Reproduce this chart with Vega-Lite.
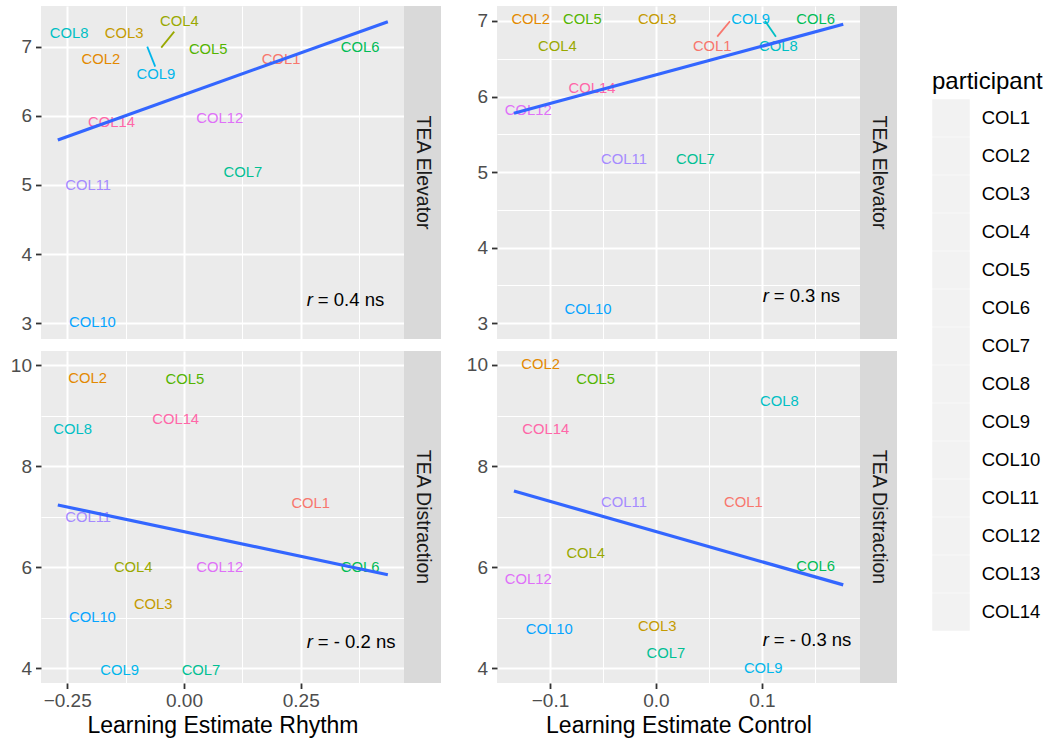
{
  "$schema": "https://vega.github.io/schema/vega-lite/v6.json",
  "padding": {"left": 5, "top": 6, "right": 0, "bottom": 0},
  "background": "white",
  "config": {
    "font": "Liberation Sans",
    "view": {"fill": "#EBEBEB", "stroke": null},
    "axis": {
      "gridColor": "#FFFFFF",
      "domain": false,
      "tickColor": "#333333",
      "tickSize": 5.5,
      "tickWidth": 1.8,
      "labelColor": "#4D4D4D",
      "labelFontSize": 19,
      "labelFont": "Liberation Sans",
      "labelFlush": false,
      "labelOverlap": false,
      "labelBound": false,
      "titleFont": "Liberation Sans",
      "titleFontWeight": "normal",
      "titleColor": "#000000",
      "titleFontSize": 23
    },
    "legend": {
      "labelFont": "Liberation Sans",
      "titleFont": "Liberation Sans"
    }
  },
  "datasets": {
    "labels": [
      {"panel": "TL", "participant": "COL1", "x": 0.208, "y": 6.80},
      {"panel": "TL", "participant": "COL2", "x": -0.178, "y": 6.80},
      {"panel": "TL", "participant": "COL3", "x": -0.128, "y": 7.19},
      {"panel": "TL", "participant": "COL4", "x": -0.010, "y": 7.35},
      {"panel": "TL", "participant": "COL5", "x": 0.052, "y": 6.957},
      {"panel": "TL", "participant": "COL6", "x": 0.377, "y": 6.986},
      {"panel": "TL", "participant": "COL7", "x": 0.126, "y": 5.18},
      {"panel": "TL", "participant": "COL8", "x": -0.246, "y": 7.19},
      {"panel": "TL", "participant": "COL9", "x": -0.060, "y": 6.587},
      {"panel": "TL", "participant": "COL10", "x": -0.196, "y": 3.0},
      {"panel": "TL", "participant": "COL11", "x": -0.205, "y": 4.99},
      {"panel": "TL", "participant": "COL12", "x": 0.0765, "y": 5.95},
      {"panel": "TL", "participant": "COL14", "x": -0.155, "y": 5.90},

      {"panel": "TR", "participant": "COL1", "x": 0.0531, "y": 6.66},
      {"panel": "TR", "participant": "COL2", "x": -0.1182, "y": 7.013},
      {"panel": "TR", "participant": "COL3", "x": 0.0012, "y": 7.013},
      {"panel": "TR", "participant": "COL4", "x": -0.0931, "y": 6.66},
      {"panel": "TR", "participant": "COL5", "x": -0.0695, "y": 7.013},
      {"panel": "TR", "participant": "COL6", "x": 0.1506, "y": 7.013},
      {"panel": "TR", "participant": "COL7", "x": 0.0371, "y": 5.16},
      {"panel": "TR", "participant": "COL8", "x": 0.1154, "y": 6.66},
      {"panel": "TR", "participant": "COL9", "x": 0.0893, "y": 7.013},
      {"panel": "TR", "participant": "COL10", "x": -0.0642, "y": 3.168},
      {"panel": "TR", "participant": "COL11", "x": -0.0302, "y": 5.16},
      {"panel": "TR", "participant": "COL12", "x": -0.1205, "y": 5.81},
      {"panel": "TR", "participant": "COL14", "x": -0.0604, "y": 6.097},

      {"panel": "BL", "participant": "COL1", "x": 0.2714, "y": 7.26},
      {"panel": "BL", "participant": "COL2", "x": -0.2063, "y": 9.73},
      {"panel": "BL", "participant": "COL3", "x": -0.0658, "y": 5.26},
      {"panel": "BL", "participant": "COL4", "x": -0.1086, "y": 5.99},
      {"panel": "BL", "participant": "COL5", "x": 0.0021, "y": 9.71},
      {"panel": "BL", "participant": "COL6", "x": 0.377, "y": 5.99},
      {"panel": "BL", "participant": "COL7", "x": 0.0364, "y": 3.95},
      {"panel": "BL", "participant": "COL8", "x": -0.2384, "y": 8.72},
      {"panel": "BL", "participant": "COL9", "x": -0.1378, "y": 3.95},
      {"panel": "BL", "participant": "COL10", "x": -0.196, "y": 5.0},
      {"panel": "BL", "participant": "COL11", "x": -0.205, "y": 6.98},
      {"panel": "BL", "participant": "COL12", "x": 0.0765, "y": 5.99},
      {"panel": "BL", "participant": "COL14", "x": -0.0178, "y": 8.917},

      {"panel": "BR", "participant": "COL1", "x": 0.0824, "y": 7.27},
      {"panel": "BR", "participant": "COL2", "x": -0.1088, "y": 10.0},
      {"panel": "BR", "participant": "COL3", "x": 0.0012, "y": 4.81},
      {"panel": "BR", "participant": "COL4", "x": -0.0663, "y": 6.27},
      {"panel": "BR", "participant": "COL5", "x": -0.0569, "y": 9.70},
      {"panel": "BR", "participant": "COL6", "x": 0.1506, "y": 6.01},
      {"panel": "BR", "participant": "COL7", "x": 0.0094, "y": 4.29},
      {"panel": "BR", "participant": "COL8", "x": 0.1164, "y": 9.26},
      {"panel": "BR", "participant": "COL9", "x": 0.1012, "y": 3.98},
      {"panel": "BR", "participant": "COL10", "x": -0.1007, "y": 4.75},
      {"panel": "BR", "participant": "COL11", "x": -0.0302, "y": 7.27},
      {"panel": "BR", "participant": "COL12", "x": -0.1205, "y": 5.75},
      {"panel": "BR", "participant": "COL14", "x": -0.104, "y": 8.72}
    ],
    "segs": [
      {"panel": "TL", "participant": "COL4", "x": -0.0208, "y": 7.217, "x2": -0.0486, "y2": 6.986},
      {"panel": "TL", "participant": "COL9", "x": -0.0615, "y": 6.711, "x2": -0.0786, "y2": 7.0},
      {"panel": "TR", "participant": "COL1", "x": 0.0578, "y": 6.792, "x2": 0.0698, "y2": 6.996},
      {"panel": "TR", "participant": "COL8", "x": 0.1132, "y": 6.792, "x2": 0.1028, "y2": 7.004}
    ],
    "fits": [
      {"panel": "TL", "x": -0.270, "y": 5.652},
      {"panel": "TL", "x": 0.4364, "y": 7.361},
      {"panel": "TR", "x": -0.134, "y": 5.779},
      {"panel": "TR", "x": 0.1767, "y": 6.956},
      {"panel": "BL", "x": -0.270, "y": 7.234},
      {"panel": "BL", "x": 0.4364, "y": 5.853},
      {"panel": "BR", "x": -0.134, "y": 7.506},
      {"panel": "BR", "x": 0.1767, "y": 5.65}
    ],
    "annot": [
      {"panel": "TL", "x": 0.263, "y": 3.34, "rest": "= 0.4 ns"},
      {"panel": "TR", "x": 0.1007, "y": 3.353, "rest": "= 0.3 ns"},
      {"panel": "BL", "x": 0.263, "y": 4.527, "rest": "= - 0.2 ns"},
      {"panel": "BR", "x": 0.1007, "y": 4.553, "rest": "= - 0.3 ns"}
    ],
    "strips": [
      {"measure": "TEA Elevator"},
      {"measure": "TEA Distraction"}
    ]
  },
  "resolve": {"scale": {"color": "shared", "fill": "shared"}, "legend": {"color": "shared"}},
  "spacing": 12,
  "vconcat": [
    {
      "spacing": 0,
      "resolve": {"scale": {"color": "shared", "fill": "shared"}, "legend": {"color": "shared"}},
      "hconcat": [
        {
          "width": 363, "height": 333,
          "layer": [
            {
              "data": {"name": "labels"},
              "transform": [{"filter": "datum.panel === 'TL'"}],
              "mark": {"type": "text", "fontSize": 14.8, "clip": true, "align": "center", "baseline": "middle"},
              "encoding": {
                "x": {"field": "x", "type": "quantitative", "scale": {"domain": [-0.306, 0.471], "nice": false, "zero": false},
                  "axis": {"values": [-0.25, -0.125, 0, 0.125, 0.25, 0.375], "labels": false, "ticks": false, "title": null,
                    "gridWidth": {"condition": {"test": "abs(datum.value*4 - round(datum.value*4)) < 1e-6", "value": 2}, "value": 1}}},
                "y": {"field": "y", "type": "quantitative", "scale": {"domain": [2.773, 7.588], "nice": false, "zero": false},
                  "axis": {"values": [3, 3.5, 4, 4.5, 5, 5.5, 6, 6.5, 7, 7.5],
                    "labelExpr": "datum.value % 1 === 0 ? format(datum.value, '.0f') : ''",
                    "tickOpacity": {"condition": {"test": "datum.value % 1 === 0", "value": 1}, "value": 0},
                    "gridWidth": {"condition": {"test": "datum.value % 1 === 0", "value": 2}, "value": 1},
                    "labelPadding": 4, "title": " ", "titleFontSize": 1, "minExtent": 32, "maxExtent": 32, "titlePadding": 3}},
                "text": {"field": "participant"},
                "fill": {"field": "participant", "type": "nominal",
                  "scale": {"domain": ["COL1","COL2","COL3","COL4","COL5","COL6","COL7","COL8","COL9","COL10","COL11","COL12","COL14"],
                    "range": ["#F8766D","#E38900","#C49A00","#99A800","#53B400","#00BC56","#00C094","#00BFC4","#00B6EB","#06A4FF","#A58AFF","#DF70F8","#FF66A8"]},
                  "legend": null}
              }
            },
            {
              "data": {"name": "segs"},
              "transform": [{"filter": "datum.panel === 'TL'"}],
              "mark": {"type": "rule", "strokeWidth": 1.8, "clip": true},
              "encoding": {
                "x": {"field": "x", "type": "quantitative"},
                "y": {"field": "y", "type": "quantitative"},
                "x2": {"field": "x2"},
                "y2": {"field": "y2"},
                "color": {"field": "participant", "type": "nominal",
                  "scale": {"domain": ["COL1","COL2","COL3","COL4","COL5","COL6","COL7","COL8","COL9","COL10","COL11","COL12","COL13","COL14"],
                    "range": ["#F8766D","#E38900","#C49A00","#99A800","#53B400","#00BC56","#00C094","#00BFC4","#00B6EB","#06A4FF","#A58AFF","#DF70F8","#FB61D7","#FF66A8"]},
                  "legend": {"title": "participant", "orient": "none", "legendX": 891, "legendY": 64, "direction": "vertical",
                    "padding": 0, "titlePadding": 5, "rowPadding": -6, "symbolOffset": 0, "labelOffset": 11.7,
                    "symbolType": "square", "symbolSize": 1406, "symbolStrokeWidth": 0, "symbolFillColor": "#F2F2F2",
                    "titleFontSize": 24, "titleFontWeight": "normal", "titleColor": "#000000",
                    "labelFontSize": 18.5, "labelColor": "#000000", "labelLimit": 200,
                    "encode": {"symbols": {"update": {"fill": {"value": "#F2F2F2"}, "fillOpacity": {"value": 1}, "strokeOpacity": {"value": 0}, "strokeWidth": {"value": 0}, "opacity": {"value": 1}}}}}}
              }
            },
            {
              "data": {"name": "fits"},
              "transform": [{"filter": "datum.panel === 'TL'"}],
              "mark": {"type": "line", "color": "#3366FF", "strokeWidth": 3.2},
              "encoding": {
                "x": {"field": "x", "type": "quantitative"},
                "y": {"field": "y", "type": "quantitative"}
              }
            },
            {
              "data": {"name": "annot"},
              "transform": [{"filter": "datum.panel === 'TL'"}],
              "mark": {"type": "text", "text": "r", "fontStyle": "italic", "fontSize": 18.5, "align": "left", "baseline": "middle", "color": "#000000"},
              "encoding": {
                "x": {"field": "x", "type": "quantitative"},
                "y": {"field": "y", "type": "quantitative"}
              }
            },
            {
              "data": {"name": "annot"},
              "transform": [{"filter": "datum.panel === 'TL'"}],
              "mark": {"type": "text", "fontSize": 18.5, "align": "left", "baseline": "middle", "color": "#000000", "dx": 11},
              "encoding": {
                "x": {"field": "x", "type": "quantitative"},
                "y": {"field": "y", "type": "quantitative"},
                "text": {"field": "rest"}
              }
            }
          ]
        },
        {
          "width": 37, "height": 333,
          "view": {"fill": "#D9D9D9", "stroke": null},
          "data": {"name": "strips"},
          "transform": [{"filter": "datum.measure === 'TEA Elevator'"}],
          "mark": {"type": "text", "angle": 90, "fontSize": 19.5, "color": "#1A1A1A", "align": "center", "baseline": "middle"},
          "encoding": {"text": {"field": "measure"}}
        },
        {
          "width": 363, "height": 333,
          "layer": [
            {
              "data": {"name": "labels"},
              "transform": [{"filter": "datum.panel === 'TR'"}],
              "mark": {"type": "text", "fontSize": 14.8, "clip": true, "align": "center", "baseline": "middle"},
              "encoding": {
                "x": {"field": "x", "type": "quantitative", "scale": {"domain": [-0.15, 0.1925], "nice": false, "zero": false},
                  "axis": {"values": [-0.1, -0.05, 0, 0.05, 0.1, 0.15], "labels": false, "ticks": false, "title": null,
                    "gridWidth": {"condition": {"test": "abs(datum.value*10 - round(datum.value*10)) < 1e-6", "value": 2}, "value": 1}}},
                "y": {"field": "y", "type": "quantitative", "scale": {"domain": [2.79, 7.198], "nice": false, "zero": false},
                  "axis": {"values": [3, 3.5, 4, 4.5, 5, 5.5, 6, 6.5, 7],
                    "labelExpr": "datum.value % 1 === 0 ? format(datum.value, '.0f') : ''",
                    "tickOpacity": {"condition": {"test": "datum.value % 1 === 0", "value": 1}, "value": 0},
                    "gridWidth": {"condition": {"test": "datum.value % 1 === 0", "value": 2}, "value": 1},
                    "labelPadding": 4, "title": " ", "titleFontSize": 1, "minExtent": 32, "maxExtent": 32, "titlePadding": 23}},
                "text": {"field": "participant"},
                "fill": {"field": "participant", "type": "nominal",
                  "scale": {"domain": ["COL1","COL2","COL3","COL4","COL5","COL6","COL7","COL8","COL9","COL10","COL11","COL12","COL14"],
                    "range": ["#F8766D","#E38900","#C49A00","#99A800","#53B400","#00BC56","#00C094","#00BFC4","#00B6EB","#06A4FF","#A58AFF","#DF70F8","#FF66A8"]},
                  "legend": null}
              }
            },
            {
              "data": {"name": "segs"},
              "transform": [{"filter": "datum.panel === 'TR'"}],
              "mark": {"type": "rule", "strokeWidth": 1.8, "clip": true},
              "encoding": {
                "x": {"field": "x", "type": "quantitative"},
                "y": {"field": "y", "type": "quantitative"},
                "x2": {"field": "x2"},
                "y2": {"field": "y2"},
                "color": {"field": "participant", "type": "nominal",
                  "scale": {"domain": ["COL1","COL2","COL3","COL4","COL5","COL6","COL7","COL8","COL9","COL10","COL11","COL12","COL13","COL14"],
                    "range": ["#F8766D","#E38900","#C49A00","#99A800","#53B400","#00BC56","#00C094","#00BFC4","#00B6EB","#06A4FF","#A58AFF","#DF70F8","#FB61D7","#FF66A8"]}}
              }
            },
            {
              "data": {"name": "fits"},
              "transform": [{"filter": "datum.panel === 'TR'"}],
              "mark": {"type": "line", "color": "#3366FF", "strokeWidth": 3.2},
              "encoding": {
                "x": {"field": "x", "type": "quantitative"},
                "y": {"field": "y", "type": "quantitative"}
              }
            },
            {
              "data": {"name": "annot"},
              "transform": [{"filter": "datum.panel === 'TR'"}],
              "mark": {"type": "text", "text": "r", "fontStyle": "italic", "fontSize": 18.5, "align": "left", "baseline": "middle", "color": "#000000"},
              "encoding": {
                "x": {"field": "x", "type": "quantitative"},
                "y": {"field": "y", "type": "quantitative"}
              }
            },
            {
              "data": {"name": "annot"},
              "transform": [{"filter": "datum.panel === 'TR'"}],
              "mark": {"type": "text", "fontSize": 18.5, "align": "left", "baseline": "middle", "color": "#000000", "dx": 11},
              "encoding": {
                "x": {"field": "x", "type": "quantitative"},
                "y": {"field": "y", "type": "quantitative"},
                "text": {"field": "rest"}
              }
            }
          ]
        },
        {
          "width": 37, "height": 333,
          "view": {"fill": "#D9D9D9", "stroke": null},
          "data": {"name": "strips"},
          "transform": [{"filter": "datum.measure === 'TEA Elevator'"}],
          "mark": {"type": "text", "angle": 90, "fontSize": 19.5, "color": "#1A1A1A", "align": "center", "baseline": "middle"},
          "encoding": {"text": {"field": "measure"}}
        }
      ]
    },
    {
      "spacing": 0,
      "resolve": {"scale": {"color": "shared", "fill": "shared"}, "legend": {"color": "shared"}},
      "hconcat": [
        {
          "width": 363, "height": 332,
          "layer": [
            {
              "data": {"name": "labels"},
              "transform": [{"filter": "datum.panel === 'BL'"}],
              "mark": {"type": "text", "fontSize": 14.8, "clip": true, "align": "center", "baseline": "middle"},
              "encoding": {
                "x": {"field": "x", "type": "quantitative", "scale": {"domain": [-0.306, 0.471], "nice": false, "zero": false},
                  "axis": {"values": [-0.25, -0.125, 0, 0.125, 0.25, 0.375],
                    "labelExpr": "abs(datum.value*4 - round(datum.value*4)) < 1e-6 ? format(datum.value, '.2f') : ''",
                    "tickOpacity": {"condition": {"test": "abs(datum.value*4 - round(datum.value*4)) < 1e-6", "value": 1}, "value": 0},
                    "gridWidth": {"condition": {"test": "abs(datum.value*4 - round(datum.value*4)) < 1e-6", "value": 2}, "value": 1},
                    "labelPadding": 3, "title": "Learning Estimate Rhythm", "titlePadding": 4}},
                "y": {"field": "y", "type": "quantitative", "scale": {"domain": [3.709, 10.283], "nice": false, "zero": false},
                  "axis": {"values": [4, 5, 6, 7, 8, 9, 10],
                    "labelExpr": "datum.value % 2 === 0 ? format(datum.value, '.0f') : ''",
                    "tickOpacity": {"condition": {"test": "datum.value % 2 === 0", "value": 1}, "value": 0},
                    "gridWidth": {"condition": {"test": "datum.value % 2 === 0", "value": 2}, "value": 1},
                    "labelPadding": 4, "title": " ", "titleFontSize": 1, "minExtent": 32, "maxExtent": 32, "titlePadding": 3}},
                "text": {"field": "participant"},
                "fill": {"field": "participant", "type": "nominal",
                  "scale": {"domain": ["COL1","COL2","COL3","COL4","COL5","COL6","COL7","COL8","COL9","COL10","COL11","COL12","COL14"],
                    "range": ["#F8766D","#E38900","#C49A00","#99A800","#53B400","#00BC56","#00C094","#00BFC4","#00B6EB","#06A4FF","#A58AFF","#DF70F8","#FF66A8"]},
                  "legend": null}
              }
            },
            {
              "data": {"name": "fits"},
              "transform": [{"filter": "datum.panel === 'BL'"}],
              "mark": {"type": "line", "color": "#3366FF", "strokeWidth": 3.2},
              "encoding": {
                "x": {"field": "x", "type": "quantitative"},
                "y": {"field": "y", "type": "quantitative"}
              }
            },
            {
              "data": {"name": "annot"},
              "transform": [{"filter": "datum.panel === 'BL'"}],
              "mark": {"type": "text", "text": "r", "fontStyle": "italic", "fontSize": 18.5, "align": "left", "baseline": "middle", "color": "#000000"},
              "encoding": {
                "x": {"field": "x", "type": "quantitative"},
                "y": {"field": "y", "type": "quantitative"}
              }
            },
            {
              "data": {"name": "annot"},
              "transform": [{"filter": "datum.panel === 'BL'"}],
              "mark": {"type": "text", "fontSize": 18.5, "align": "left", "baseline": "middle", "color": "#000000", "dx": 11},
              "encoding": {
                "x": {"field": "x", "type": "quantitative"},
                "y": {"field": "y", "type": "quantitative"},
                "text": {"field": "rest"}
              }
            }
          ]
        },
        {
          "width": 37, "height": 332,
          "view": {"fill": "#D9D9D9", "stroke": null},
          "data": {"name": "strips"},
          "transform": [{"filter": "datum.measure === 'TEA Distraction'"}],
          "mark": {"type": "text", "angle": 90, "fontSize": 19.5, "color": "#1A1A1A", "align": "center", "baseline": "middle"},
          "encoding": {"text": {"field": "measure"}}
        },
        {
          "width": 363, "height": 332,
          "layer": [
            {
              "data": {"name": "labels"},
              "transform": [{"filter": "datum.panel === 'BR'"}],
              "mark": {"type": "text", "fontSize": 14.8, "clip": true, "align": "center", "baseline": "middle"},
              "encoding": {
                "x": {"field": "x", "type": "quantitative", "scale": {"domain": [-0.15, 0.1925], "nice": false, "zero": false},
                  "axis": {"values": [-0.1, -0.05, 0, 0.05, 0.1, 0.15],
                    "labelExpr": "abs(datum.value*10 - round(datum.value*10)) < 1e-6 ? format(datum.value, '.1f') : ''",
                    "tickOpacity": {"condition": {"test": "abs(datum.value*10 - round(datum.value*10)) < 1e-6", "value": 1}, "value": 0},
                    "gridWidth": {"condition": {"test": "abs(datum.value*10 - round(datum.value*10)) < 1e-6", "value": 2}, "value": 1},
                    "labelPadding": 3, "title": "Learning Estimate Control", "titlePadding": 4}},
                "y": {"field": "y", "type": "quantitative", "scale": {"domain": [3.71, 10.276], "nice": false, "zero": false},
                  "axis": {"values": [4, 5, 6, 7, 8, 9, 10],
                    "labelExpr": "datum.value % 2 === 0 ? format(datum.value, '.0f') : ''",
                    "tickOpacity": {"condition": {"test": "datum.value % 2 === 0", "value": 1}, "value": 0},
                    "gridWidth": {"condition": {"test": "datum.value % 2 === 0", "value": 2}, "value": 1},
                    "labelPadding": 4, "title": " ", "titleFontSize": 1, "minExtent": 32, "maxExtent": 32, "titlePadding": 23}},
                "text": {"field": "participant"},
                "fill": {"field": "participant", "type": "nominal",
                  "scale": {"domain": ["COL1","COL2","COL3","COL4","COL5","COL6","COL7","COL8","COL9","COL10","COL11","COL12","COL14"],
                    "range": ["#F8766D","#E38900","#C49A00","#99A800","#53B400","#00BC56","#00C094","#00BFC4","#00B6EB","#06A4FF","#A58AFF","#DF70F8","#FF66A8"]},
                  "legend": null}
              }
            },
            {
              "data": {"name": "fits"},
              "transform": [{"filter": "datum.panel === 'BR'"}],
              "mark": {"type": "line", "color": "#3366FF", "strokeWidth": 3.2},
              "encoding": {
                "x": {"field": "x", "type": "quantitative"},
                "y": {"field": "y", "type": "quantitative"}
              }
            },
            {
              "data": {"name": "annot"},
              "transform": [{"filter": "datum.panel === 'BR'"}],
              "mark": {"type": "text", "text": "r", "fontStyle": "italic", "fontSize": 18.5, "align": "left", "baseline": "middle", "color": "#000000"},
              "encoding": {
                "x": {"field": "x", "type": "quantitative"},
                "y": {"field": "y", "type": "quantitative"}
              }
            },
            {
              "data": {"name": "annot"},
              "transform": [{"filter": "datum.panel === 'BR'"}],
              "mark": {"type": "text", "fontSize": 18.5, "align": "left", "baseline": "middle", "color": "#000000", "dx": 11},
              "encoding": {
                "x": {"field": "x", "type": "quantitative"},
                "y": {"field": "y", "type": "quantitative"},
                "text": {"field": "rest"}
              }
            }
          ]
        },
        {
          "width": 37, "height": 332,
          "view": {"fill": "#D9D9D9", "stroke": null},
          "data": {"name": "strips"},
          "transform": [{"filter": "datum.measure === 'TEA Distraction'"}],
          "mark": {"type": "text", "angle": 90, "fontSize": 19.5, "color": "#1A1A1A", "align": "center", "baseline": "middle"},
          "encoding": {"text": {"field": "measure"}}
        }
      ]
    }
  ]
}
